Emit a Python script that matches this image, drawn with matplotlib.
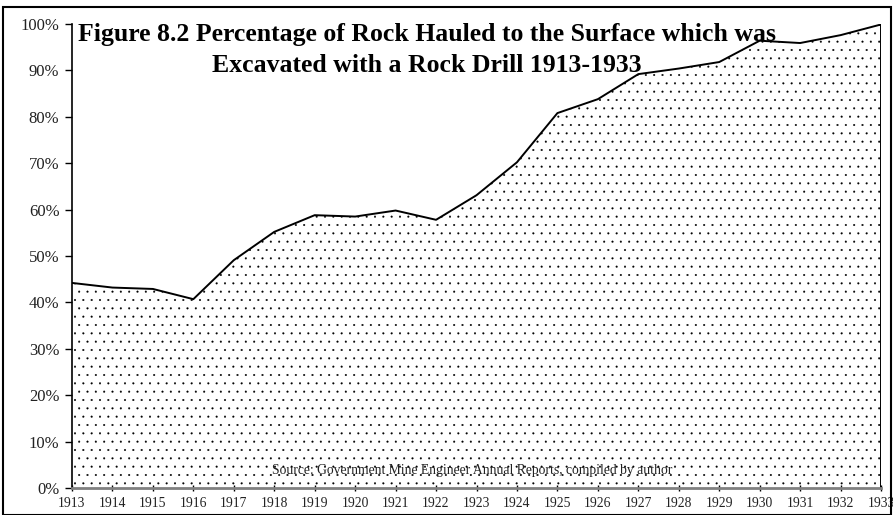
import numpy as np
import matplotlib.pyplot as plt
from matplotlib.patches import Rectangle

years = list(range(1913, 1934))
pct_drilled = [44.2, 43.2, 42.9, 40.7, 49.1, 55.2, 58.8, 58.5, 59.8, 57.8,
               63.1, 70.2, 80.8, 83.8, 89.2, 90.4, 91.8, 96.4, 95.9, 97.6, 99.9]
y_ticks = list(range(0, 101, 10))
y_labels = [f"{t}%" for t in y_ticks]

title = ("Figure 8.2 Percentage of Rock Hauled to the Surface which was\n"
         "Excavated with a Rock Drill 1913-1933")
source = "Source: Government Mine Engineer Annual Reports, compiled by author"

plt.rcParams['font.family'] = ['Liberation Serif', 'DejaVu Serif']
plt.rcParams['hatch.linewidth'] = 0.25

fig = plt.figure(figsize=(8.93, 5.15), dpi=100)
ax = fig.add_axes([0.0806, 0.0524, 0.906, 0.901])

ax.fill_between(years, pct_drilled, 0, facecolor='white', hatch='..',
                edgecolor='black', linewidth=0)
ax.plot(years, pct_drilled, color='black', linewidth=1.4)
ax.plot([years[-1], years[-1]], [0, pct_drilled[-1]], color='black', linewidth=1.4)

ax.set_xlim(years[0], years[-1])
ax.set_ylim(0, 100)
ax.set_yticks(y_ticks)
ax.set_yticklabels(y_labels, fontsize=12, color='#222222')
ax.set_xticks(years)
ax.set_xticklabels([str(y) for y in years], fontsize=9.8, color='#222222')

for side in ['top', 'right']:
    ax.spines[side].set_visible(False)
ax.spines['left'].set_linewidth(1.2)
ax.spines['bottom'].set_color('#808080')
ax.spines['bottom'].set_linewidth(2)
ax.tick_params(axis='y', direction='out', length=5, width=1, pad=4)
ax.tick_params(axis='x', direction='inout', length=5, width=1, pad=4)

fig.text(0.478, 0.955, title, ha='center', va='top', fontsize=18.5,
         fontweight='bold', linespacing=1.45)
ax.text(1922.9, 2.3, source, ha='center', va='bottom', fontsize=9.8,
        color='#222222')

# outer frame around the whole figure
fig.add_artist(Rectangle((0.0034, 0.0), 0.9944, 0.9864, transform=fig.transFigure,
                         fill=False, edgecolor='black', linewidth=1.5))

fig.savefig('out.png', dpi=100)
